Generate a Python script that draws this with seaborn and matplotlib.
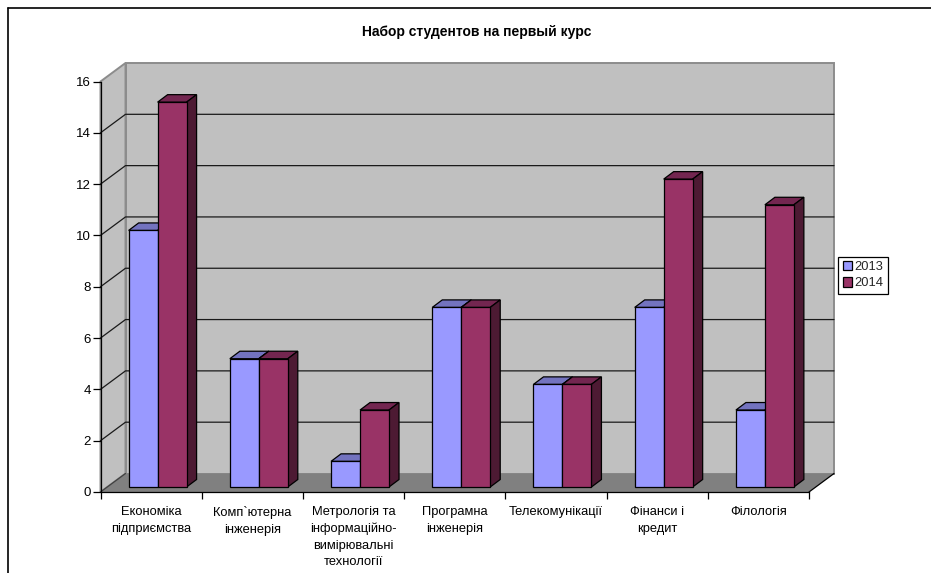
import matplotlib
matplotlib.use("Agg")
import matplotlib.pyplot as plt
import pandas as pd
import seaborn as sns
from matplotlib.lines import Line2D
from matplotlib.patches import Polygon

categories = [
    "Економіка\nпідприємства",
    "Комп`ютерна\nінженерія",
    "Метрологія та\nінформаційно-\nвимірювальні\nтехнології",
    "Програмна\nінженерія",
    "Телекомунікації",
    "Фінанси і\nкредит",
    "Філологія",
]
values_2013 = [10, 5, 1, 7, 4, 7, 3]
values_2014 = [15, 5, 3, 7, 4, 12, 11]
y_ticks = [0, 2, 4, 6, 8, 10, 12, 14, 16]

W, H = 931, 573
LEFT, RIGHT, BOTTOM, TOP = 100.5, 809, 492, 81.5

sns.set_theme(style="white")
plt.rcParams["font.family"] = ["Liberation Sans", "DejaVu Sans"]

df = pd.DataFrame({
    "category": categories * 2,
    "year": ["2013"] * 7 + ["2014"] * 7,
    "value": values_2013 + values_2014,
})

fig = plt.figure(figsize=(W / 100, H / 100), dpi=100)
ax = fig.add_axes([LEFT / W, 1 - BOTTOM / H, (RIGHT - LEFT) / W, (BOTTOM - TOP) / H])

sns.barplot(
    data=df, x="category", y="value", hue="year",
    palette={"2013": "#9999FF", "2014": "#993366"},
    width=0.5725, gap=0, saturation=1,
    edgecolor="black", linewidth=0.9, ax=ax,
)
ax.set_xlim(-0.5, 6.5)
ax.set_ylim(0, 16)

# pixel offsets turned into data units
px_x = 7 / (RIGHT - LEFT)
px_y = 16 / (BOTTOM - TOP)
wall_dx, wall_dy = 25 * px_x, 18.5 * px_y
gap_dx, gap_dy = 6.5 * px_x, 5 * px_y
depth_dx, depth_dy = 10 * px_x, 7.5 * px_y

x0, x1 = -0.5, 6.5


def add_poly(points, color, z, edge="none", lw=1.0):
    ax.add_patch(Polygon(points, closed=True, facecolor=color, edgecolor=edge,
                         linewidth=lw, zorder=z, clip_on=False))


# walls and floor
add_poly([(x0 + wall_dx, wall_dy), (x1 + wall_dx, wall_dy), (x1 + wall_dx, 16 + wall_dy), (x0 + wall_dx, 16 + wall_dy)],
         "#C0C0C0", 0.2, "#8C8C8C", 1.4)
add_poly([(x0, 0), (x0 + wall_dx, wall_dy), (x0 + wall_dx, 16 + wall_dy), (x0, 16)],
         "#C0C0C0", 0.3, "#8C8C8C", 1.4)
add_poly([(x0, 0), (x1, 0), (x1 + wall_dx, wall_dy), (x0 + wall_dx, wall_dy)], "#808080", 0.4)
ax.plot([x1, x1 + wall_dx], [0, wall_dy], color="black", lw=0.9, zorder=0.5, clip_on=False)
ax.plot([x0, x0 + wall_dx], [0, wall_dy], color="#404040", lw=0.9, zorder=0.5, clip_on=False)

for tick in y_ticks[1:-1]:
    ax.plot([x0, x0 + wall_dx, x1 + wall_dx], [tick, tick + wall_dy, tick + wall_dy],
            color="#1a1a1a", lw=0.9, zorder=0.6, clip_on=False)

# fake depth on each column
shades = [("#7373BF", "#4D4D80"), ("#732650", "#4D1A33")]
for n, (container, (top_color, side_color)) in enumerate(zip(ax.containers, shades)):
    for bar in container:
        bar.set_x(bar.get_x() + gap_dx)
        bar.set_y(gap_dy)
        bar.set_zorder(3 + n)
        left = bar.get_x()
        right = left + bar.get_width()
        low = bar.get_y()
        high = low + bar.get_height()
        add_poly([(left, high), (right, high), (right + depth_dx, high + depth_dy), (left + depth_dx, high + depth_dy)],
                 top_color, 2.9 + n, "black", 0.9)
        add_poly([(right, low), (right + depth_dx, low + depth_dy), (right + depth_dx, high + depth_dy), (right, high)],
                 side_color, 2.9 + n, "black", 0.9)

# axes
for side in ["top", "right"]:
    ax.spines[side].set_visible(False)
for side in ["left", "bottom"]:
    ax.spines[side].set_linewidth(0.9)
    ax.spines[side].set_color("black")
    ax.spines[side].set_zorder(6)

ax.set_yticks(y_ticks)
ax.set_xticks([i - 0.5 for i in range(8)], minor=True)
ax.tick_params(axis="x", which="major", length=0, pad=10.2, labelsize=9.3, labelcolor="black")
ax.tick_params(axis="x", which="minor", bottom=True, length=5, width=0.9, color="black")
ax.tick_params(axis="y", left=True, length=5.5, width=0.9, color="black", pad=1.5, labelsize=9.5, labelcolor="black")
for label in ax.get_xticklabels():
    label.set_linespacing(1.5)
ax.set_xlabel("")
ax.set_ylabel("")

fig.text(477 / W, 1 - 32 / H, "Набор студентов на первый курс", ha="center", va="center",
         fontsize=10, fontweight="bold", color="black")

handles, labels = ax.get_legend_handles_labels()
ax.legend(
    handles, labels, loc="upper left", bbox_to_anchor=(838 / W, 1 - 256.5 / H),
    bbox_transform=fig.transFigure, borderaxespad=0, fontsize=9.3, title=None,
    frameon=True, fancybox=False, framealpha=1, edgecolor="black",
    handlelength=0.75, handleheight=0.75, handletextpad=0.15,
    borderpad=0.35, labelspacing=0.3,
)
ax.get_legend().get_frame().set_linewidth(0.9)

# outer chart frame, runs off the bottom and right of the image
frame_x = 8 / W
frame_y = 1 - 8 / H
fig.add_artist(Line2D([frame_x, frame_x], [0, frame_y], color="black", lw=1.2))
fig.add_artist(Line2D([frame_x, 1], [frame_y, frame_y], color="black", lw=1.2))

fig.savefig("out.png", dpi=100)
